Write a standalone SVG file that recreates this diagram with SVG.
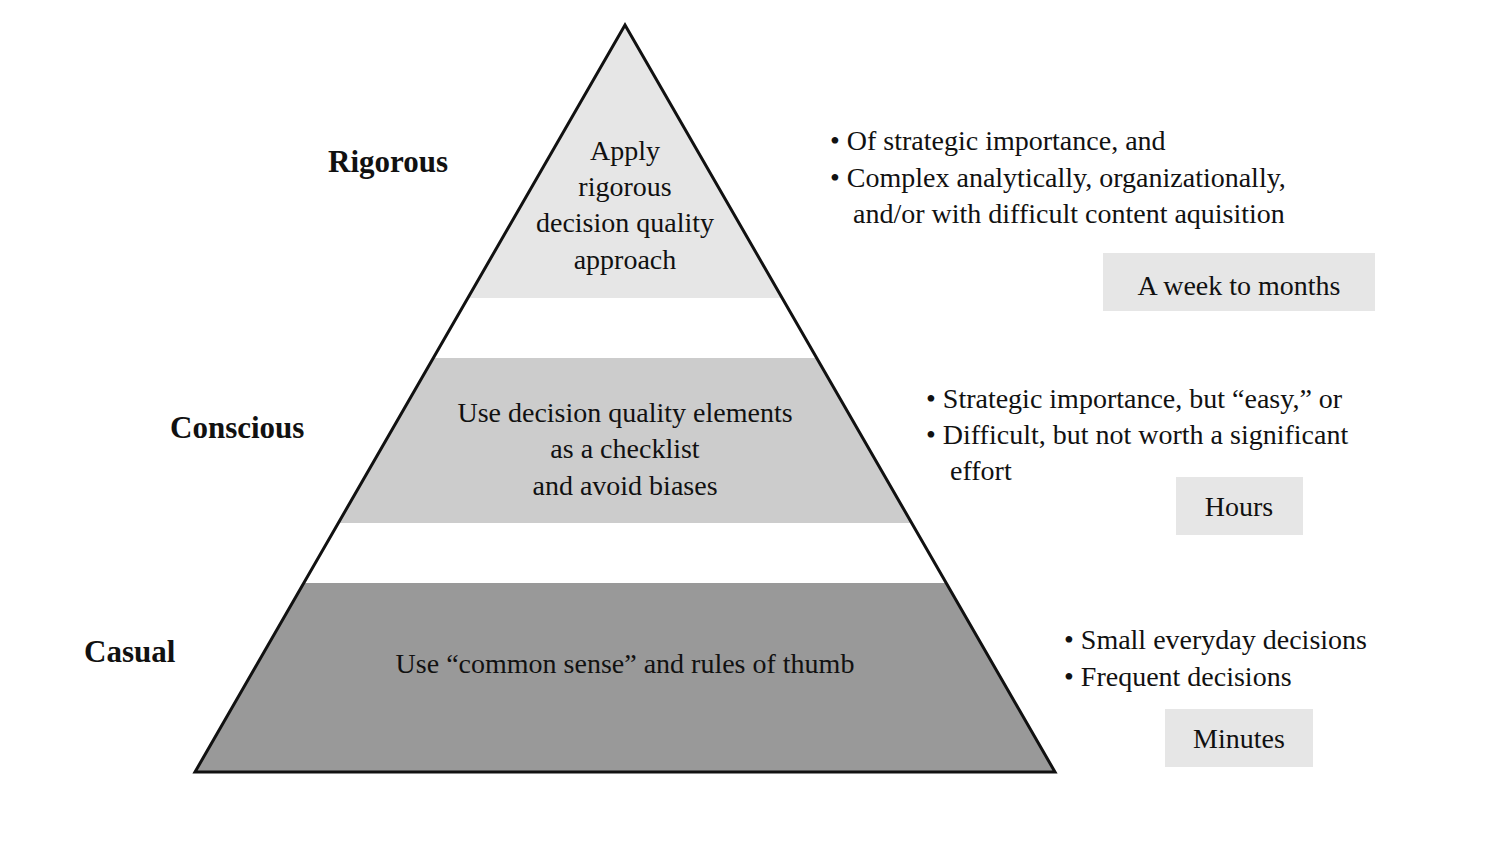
<svg xmlns="http://www.w3.org/2000/svg" width="1502" height="852" viewBox="0 0 1502 852">
<style>
text{font-family:"Liberation Serif","DejaVu Serif",serif;fill:#111;font-size:28px}
.c{text-anchor:middle}
.b{font-weight:bold;font-size:31px}
.box{fill:#e6e6e6}
</style>
<rect width="1502" height="852" fill="#fff"/>
<g id="pyramid">
<polygon points="625,25 782,298 468,298" fill="#e6e6e6"/>
<polygon points="433,358 817,358 912,523 338,523" fill="#cccccc"/>
<polygon points="304,583 946,583 1055,772 195,772" fill="#999999"/>
<polygon points="625,25 1055,772 195,772" fill="none" stroke="#111" stroke-width="3"/>
</g>
<g id="rigorous">
<text class="b" x="328" y="172">Rigorous</text>
<text class="c" x="625" y="160">Apply</text>
<text class="c" x="625" y="196">rigorous</text>
<text class="c" x="625" y="232">decision quality</text>
<text class="c" x="625" y="269">approach</text>
<text x="830" y="150">• Of strategic importance, and</text>
<text x="830" y="187">• Complex analytically, organizationally,</text>
<text x="853" y="223">and/or with difficult content aquisition</text>
<rect class="box" x="1103" y="253" width="272" height="58"/>
<text class="c" x="1239" y="295">A week to months</text>
</g>
<g id="conscious">
<text class="b" x="170" y="438">Conscious</text>
<text class="c" x="625" y="422">Use decision quality elements</text>
<text class="c" x="625" y="458">as a checklist</text>
<text class="c" x="625" y="495">and avoid biases</text>
<text x="926" y="408">• Strategic importance, but “easy,” or</text>
<text x="926" y="444">• Difficult, but not worth a significant</text>
<text x="950" y="480">effort</text>
<rect class="box" x="1176" y="477" width="127" height="58"/>
<text class="c" x="1239" y="516">Hours</text>
</g>
<g id="casual">
<text class="b" x="84" y="662">Casual</text>
<text class="c" x="625" y="673">Use “common sense” and rules of thumb</text>
<text x="1064" y="649">• Small everyday decisions</text>
<text x="1064" y="686">• Frequent decisions</text>
<rect class="box" x="1165" y="709" width="148" height="58"/>
<text class="c" x="1239" y="748">Minutes</text>
</g>
<g id="connectors"/>
</svg>
